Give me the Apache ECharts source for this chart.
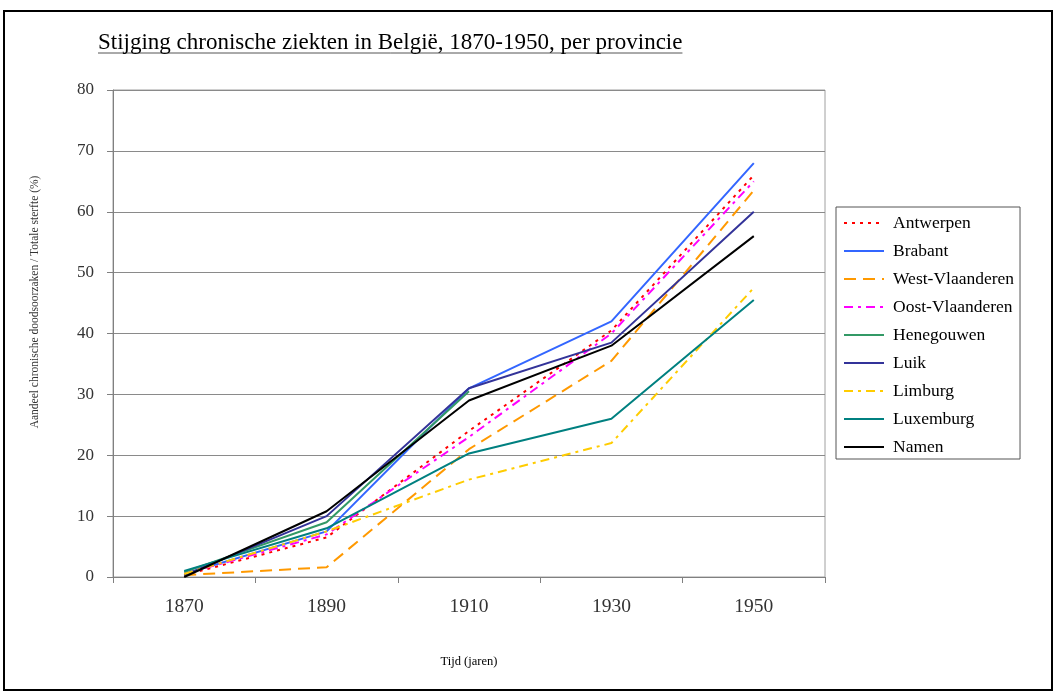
<!DOCTYPE html>
<html><head><meta charset="utf-8">
<script src="https://cdn.jsdelivr.net/npm/echarts@6/dist/echarts.min.js"></script>
<style>html,body{margin:0;padding:0;background:#fff}#c{width:1057px;height:693px}</style>
</head><body><div id="c"></div>
<script>
const categories = ['1870','1890','1910','1930','1950'];
const antwerpen = [0.3, 6.5, 24, 40.5, 66];
const brabant = [0.5, 7.5, 31, 42, 68];
const westVlaanderen = [0.3, 1.6, 21, 35.5, 63.5];
const oostVlaanderen = [0.5, 7, 23, 40, 65];
const henegouwen = [0.8, 9, 30.5, null, null];
const luik = [0.3, 10, 31, 38.5, 60];
const limburg = [0.5, 7.5, 16, 22, 47.5];
const luxemburg = [1.0, 8, 20.3, 26, 45.5];
const namen = [0, 10.8, 29, 38, 56];
const yTicks = [0,10,20,30,40,50,60,70,80];

const titleText = 'Stijging chronische ziekten in België, 1870-1950, per provincie';
const yName = 'Aandeel chronische doodsoorzaken / Totale sterfte (%)';
const serif = '"Liberation Serif","Times New Roman",serif';
const titleSize = 23;
const cv = document.createElement('canvas').getContext('2d');
cv.font = titleSize + 'px ' + serif;
const tw = cv.measureText(titleText).width;

function s(name, data, color, dash) {
  return {name, type:'line', data, symbol:'none', showSymbol:false, connectNulls:false,
    lineStyle:{color, width:2, type: dash || 'solid'}, itemStyle:{color}, emphasis:{disabled:true}};
}

const chart = echarts.init(document.getElementById('c'), null, {renderer:'canvas'});
chart.setOption({
  animation:false,
  backgroundColor:'#fff',
  title:{text:titleText, left:98, top:31, padding:0, textStyle:{fontFamily:serif, fontSize:titleSize, fontWeight:'normal', color:'#000'}},
  graphic:[
    {type:'rect', shape:{x:4, y:11, width:1048, height:679}, style:{fill:'none', stroke:'#000', lineWidth:2}, silent:true},
    {type:'line', shape:{x1:98, y1:53, x2:98+tw, y2:53}, style:{stroke:'#555', lineWidth:1}, silent:true},
    {type:'text', x:35, y:302, rotation:Math.PI/2, silent:true,
      style:{text:yName, fontFamily:serif, fontSize:11.5, fill:'#333', align:'center', verticalAlign:'middle'}}
  ],
  grid:{left:113, right:232, top:90, bottom:116, show:true, borderColor:'#a0a0a0', borderWidth:1},
  legend:{orient:'vertical', left:836, top:207, padding:[7,6,3,7],
    borderColor:'#555', borderWidth:1, itemWidth:40, itemHeight:14, itemGap:10,
    itemStyle:{opacity:0}, lineStyle:{width:2},
    textStyle:{fontFamily:serif, fontSize:17.5, color:'#000', padding:[0,0,0,4]},
    data:['Antwerpen','Brabant','West-Vlaanderen','Oost-Vlaanderen','Henegouwen','Luik','Limburg','Luxemburg','Namen']},
  xAxis:{type:'category', data:categories, boundaryGap:true,
    name:'Tijd (jaren)', nameLocation:'middle', nameGap:78,
    nameTextStyle:{fontFamily:serif, fontSize:12.5, color:'#000'},
    axisLine:{lineStyle:{color:'#808080', width:1}},
    axisTick:{show:true, length:6, lineStyle:{color:'#808080'}},
    axisLabel:{fontFamily:serif, fontSize:19.5, color:'#333', margin:20}},
  yAxis:{type:'value', min:0, max:80, interval:10,
    axisLine:{show:true, lineStyle:{color:'#808080', width:1}},
    axisTick:{show:true, length:6, lineStyle:{color:'#808080'}},
    splitLine:{lineStyle:{color:'#8a8a8a', width:1}},
    axisLabel:{fontFamily:serif, fontSize:17, color:'#333', margin:19,
      formatter: v => yTicks.includes(v) ? String(v) : ''}},
  series:[
    s('Antwerpen', antwerpen, '#ff0000', [3,5]),
    s('Brabant', brabant, '#3366ff'),
    s('West-Vlaanderen', westVlaanderen, '#ff9900', [12,7]),
    s('Oost-Vlaanderen', oostVlaanderen, '#ff00ff', [9,5,3,5]),
    s('Henegouwen', henegouwen, '#339966'),
    s('Luik', luik, '#333399'),
    s('Limburg', limburg, '#ffcc00', [9,5,3,5]),
    s('Luxemburg', luxemburg, '#008080'),
    s('Namen', namen, '#000000')
  ]
});
</script></body></html>
